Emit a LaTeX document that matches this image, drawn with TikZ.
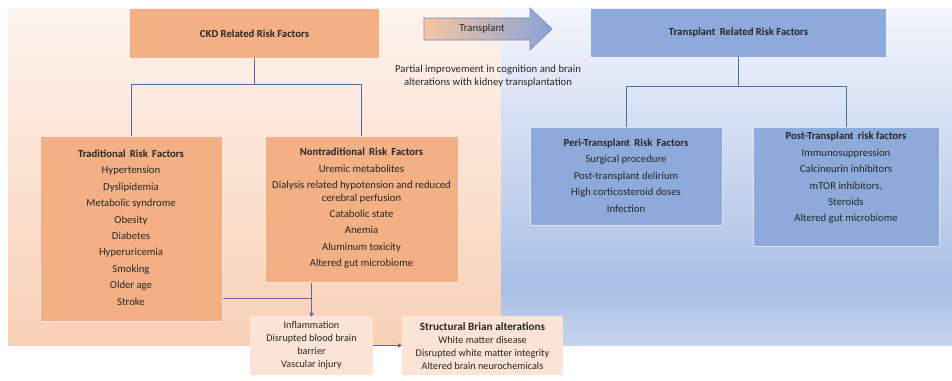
\documentclass[tikz,border=0pt]{standalone}
\usepackage{fontspec}
\setmainfont{Carlito}
\usetikzlibrary{arrows.meta}
\definecolor{orangebox}{HTML}{F3B084}
\definecolor{orangeedge}{HTML}{FCE4D2}
\definecolor{bluebox}{HTML}{8EAADB}
\definecolor{blueedge}{HTML}{DCE4F4}
\definecolor{peachbox}{HTML}{FBE4D5}
\definecolor{txt}{HTML}{262626}
\definecolor{treeline}{HTML}{4E6BB0}
\definecolor{lowline}{HTML}{6A62A8}
\definecolor{arrowtip}{HTML}{3F5FA8}
\tikzset{
  obox/.style={draw=orangeedge, line width=1pt, fill=orangebox, inner sep=0pt},
  plainobox/.style={fill=orangebox, inner sep=0pt},
  bbox/.style={draw=blueedge, line width=1pt, fill=bluebox, inner sep=0pt},
  plainbbox/.style={fill=bluebox, inner sep=0pt},
  pbox/.style={fill=peachbox, inner sep=0pt},
  txtnode/.style={text=txt, align=center, inner sep=0pt, font=\fontsize{10.7}{12.5}\selectfont},
  smalltxt/.style={text=txt, align=center, inner sep=0pt, font=\fontsize{10.2}{13}\selectfont},
  tree/.style={draw=treeline, line width=0.8pt},
  low/.style={draw=lowline, line width=0.8pt},
  tip/.style={-{Triangle[length=4pt,width=4.5pt,fill=arrowtip]}, line width=0.8pt}
}
\begin{document}
\begin{tikzpicture}[x=1pt,y=-1pt]
\useasboundingbox (0,0) rectangle (952,380);
% background panels
\shade[top color={rgb,255:red,253;green,243;blue,237}, bottom color={rgb,255:red,249;green,208;blue,182}] (8,8) rectangle (501,345);
\shade[top color={rgb,255:red,243;green,246;blue,252}, bottom color={rgb,255:red,170;green,191;blue,230}] (501,8) rectangle (952,290);
\shade[top color={rgb,255:red,170;green,191;blue,230}, bottom color={rgb,255:red,199;green,213;blue,238}] (501,290) rectangle (952,345);

% top boxes
\node[plainobox, minimum width=249pt, minimum height=49pt] (ckd) at (254.5,33.5) {};
\node[txtnode, font=\fontsize{10.7}{12.5}\selectfont\bfseries] (ckdt) at (ckd.center) {CKD Related Risk Factors};
\node[plainbbox, minimum width=295pt, minimum height=48pt] (trb) at (738.5,33) {};
\node[txtnode, font=\fontsize{10.7}{12.5}\selectfont\bfseries] (trbt) at (trb.center) {Transplant\, Related Risk Factors};

% transplant arrow
\shade[left color={rgb,255:red,248;green,196;blue,160}, right color={rgb,255:red,138;green,163;blue,216}, draw={rgb,255:red,120;green,135;blue,180}, line width=0.6pt]
  (424,18) -- (530,18) -- (530,8) -- (552,29) -- (530,50) -- (530,40) -- (424,40) -- cycle;
\node[txtnode] (tra) at (482,29) {Transplant};
\node[txtnode] (partial) at (488,76) {Partial improvement in cognition and brain\\alterations with kidney transplantation};

% CKD subboxes
\node[obox, minimum width=182pt, minimum height=185pt] (trad) at (131,228.5) {};
\node[txtnode] (tradt) at (131,227.5) {\textbf{Traditional\, Risk\, Factors}\\[3.9pt]Hypertension\\[3.9pt]Dyslipidemia\\[3.9pt]Metabolic syndrome\\[3.9pt]Obesity\\[3.9pt]Diabetes\\[3.9pt]Hyperuricemia\\[3.9pt]Smoking\\[3.9pt]Older age\\[3.9pt]Stroke};
\node[obox, minimum width=193pt, minimum height=146pt] (nontrad) at (361.5,209) {};
\node[txtnode] (nontradt) at (361.5,208.5) {\textbf{Nontraditional\, Risk\, Factors}\\[3.9pt]Uremic metabolites\\[3.9pt]Dialysis related hypotension and reduced\\cerebral perfusion\\[3.9pt]Catabolic state\\[3.9pt]Anemia\\[3.9pt]Aluminum toxicity\\[3.9pt]Altered gut microbiome};

% transplant subboxes
\node[bbox, minimum width=192pt, minimum height=98pt] (peri) at (626,176) {};
\node[txtnode] (perit) at (626,175.5) {\textbf{Peri-Transplant\, Risk\, Factors}\\[3.9pt]Surgical procedure\\[3.9pt]Post-transplant delirium\\[3.9pt]High corticosteroid doses\\[3.9pt]Infection};
\node[bbox, minimum width=186pt, minimum height=119pt] (post) at (846,186.5) {};
\node[txtnode] (postt) at (846,178) {\textbf{Post-Transplant\, risk factors}\\[3.9pt]Immunosuppression\\[3.9pt]Calcineurin inhibitors\\[3.9pt]mTOR inhibitors,\\[3.9pt]Steroids\\[3.9pt]Altered gut microbiome};

% bottom boxes
\node[pbox, minimum width=123pt, minimum height=59pt] (infl) at (311.5,345.5) {};
\node[smalltxt] (inflt) at (311.5,345.5) {Inflammation\\Disrupted blood brain\\barrier\\Vascular injury};
\node[pbox, minimum width=161pt, minimum height=59pt] (struct) at (482.5,345.5) {};
\node[smalltxt] (structt) at (482.5,346.5) {{\fontsize{11.2}{13}\selectfont\bfseries Structural Brian alterations}\\White matter disease\\Disrupted white matter integrity\\Altered brain neurochemicals};

% connectors
\coordinate (ckdj) at (254.5,84);
\coordinate (trj) at (738.5,86);
\draw[tree] (ckd.south) -- (ckdj);
\draw[tree] (ckdj) -| (trad.north);
\draw[tree] (ckdj) -| (nontrad.north);
\draw[tree] (trb.south) -- (trj);
\draw[tree] (trj) -| (peri.north);
\draw[tree] (trj) -| (post.north);

\coordinate (lowj) at (311.5,298);
\draw[low] (trad.east |- lowj) -- (lowj);
\draw[low, tip] (nontrad.south -| infl.north) -- ([yshift=-1pt]infl.north);
\draw[low, tip] (infl.east) -- (struct.west);
\end{tikzpicture}
\end{document}
